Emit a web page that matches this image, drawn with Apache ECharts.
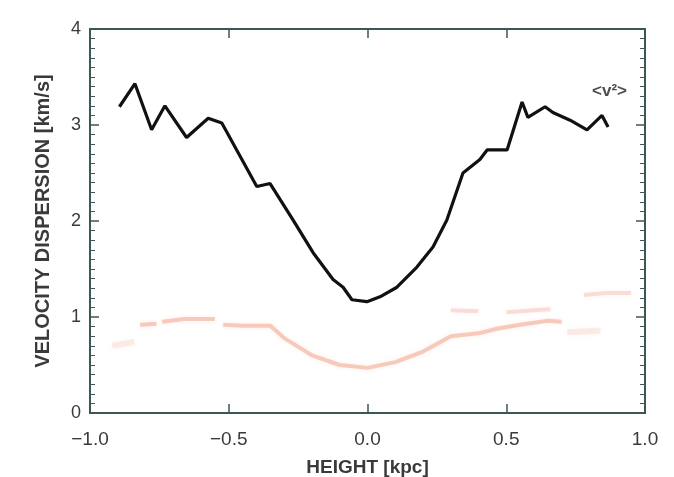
<!DOCTYPE html>
<html>
<head>
<meta charset="utf-8">
<script src="https://cdn.jsdelivr.net/npm/echarts@6/dist/echarts.min.js"></script>
<style>
  html, body { margin: 0; padding: 0; background: #ffffff; }
  #chart { width: 674px; height: 477px; }
</style>
</head>
<body>
<div id="chart"></div>
<script>
// Vertical velocity dispersion profile versus height above the plane
const heightV2 = [-0.894, -0.838, -0.778, -0.730, -0.652, -0.574, -0.525, -0.399, -0.351, -0.268,
                  -0.196, -0.124, -0.088, -0.056, -0.002, 0.045, 0.106, 0.178, 0.236, 0.286,
                  0.344, 0.405, 0.431, 0.503, 0.557, 0.578, 0.640, 0.668, 0.730, 0.791, 0.845, 0.867];
const dispV2 = [3.19, 3.43, 2.95, 3.20, 2.87, 3.07, 3.02, 2.36, 2.39, 2.01,
                1.67, 1.39, 1.31, 1.18, 1.16, 1.21, 1.31, 1.52, 1.73, 2.01,
                2.50, 2.64, 2.74, 2.74, 3.24, 3.08, 3.19, 3.13, 3.05, 2.95, 3.10, 2.98];

// Faint companion profiles
const heightA = [-0.82, -0.76, -0.74, -0.66, -0.55, -0.52, -0.45, -0.35, -0.30, -0.20, -0.10, 0.00,
                 0.10, 0.20, 0.25, 0.30, 0.40, 0.47, 0.55, 0.65, 0.70];
const dispA = [0.92, 0.93, 0.95, 0.98, 0.98, 0.92, 0.91, 0.91, 0.78, 0.60, 0.50, 0.47,
               0.53, 0.64, 0.72, 0.80, 0.83, 0.88, 0.92, 0.96, 0.95];
const heightB = [0.30, 0.40, 0.50, 0.60, 0.66, 0.78, 0.86, 0.95];
const dispB = [1.07, 1.06, 1.05, 1.07, 1.08, 1.23, 1.25, 1.25];
const heightC = [-0.92, -0.88, -0.84, 0.72, 0.78, 0.84];
const dispC = [0.70, 0.72, 0.74, 0.84, 0.85, 0.86];

const xTicks = [-1.0, -0.5, 0.0, 0.5, 1.0];
const yTicks = [0, 1, 2, 3, 4];
const curveLabel = '<v²>';
const labelPos = [0.872, 3.35];

const pairs = (xs, ys) => xs.map((x, i) => [x, ys[i]]);
const gapped = (xs, ys, breaks) => {
  const out = [];
  xs.forEach((x, i) => { out.push([x, ys[i]]); if (breaks.includes(i)) out.push([null, null]); });
  return out;
};

const frame = '#3d5656';
const txt = '#3a3a3a';
const font = '"Liberation Sans Narrow", "Liberation Sans", Arial, sans-serif';

const chart = echarts.init(document.getElementById('chart'));
const axisCommon = {
  axisLine: { show: true, onZero: false, lineStyle: { color: frame, width: 2 } },
  axisTick: { show: true, inside: true, length: 9, lineStyle: { color: frame, width: 1.5 } },
  splitLine: { show: false }
};
chart.setOption({
  backgroundColor: '#ffffff',
  animation: false,
  grid: { left: 90, right: 29, top: 29, bottom: 64, outerBoundsMode: 'none' },
  xAxis: [
    Object.assign({}, axisCommon, {
      type: 'value', position: 'bottom', min: xTicks[0], max: xTicks[xTicks.length - 1], interval: 0.5,
      name: 'HEIGHT [kpc]', nameLocation: 'middle', nameGap: 45,
      nameTextStyle: { color: txt, fontSize: 19, fontFamily: font, fontWeight: 'bold' },
      axisLabel: { color: txt, fontSize: 19, fontFamily: font, margin: 17,
                   formatter: v => (v < 0 ? '\u2212' : '') + Math.abs(v).toFixed(1) }
    }),
    Object.assign({}, axisCommon, {
      type: 'value', position: 'top', min: xTicks[0], max: xTicks[xTicks.length - 1], interval: 0.5,
      axisLabel: { show: false }
    })
  ],
  yAxis: [
    Object.assign({}, axisCommon, {
      type: 'value', position: 'left', min: yTicks[0], max: yTicks[yTicks.length - 1], interval: 1,
      name: 'VELOCITY DISPERSION [km/s]', nameLocation: 'middle', nameGap: 37, nameRotate: 90,
      nameTextStyle: { color: txt, fontSize: 20, fontFamily: font, fontWeight: 'bold' },
      minorTick: { show: true, splitNumber: 10, length: 5, lineStyle: { color: frame, width: 1 } },
      axisLabel: { color: txt, fontSize: 18, fontFamily: font, margin: 9 }
    }),
    Object.assign({}, axisCommon, {
      type: 'value', position: 'right', min: yTicks[0], max: yTicks[yTicks.length - 1], interval: 1,
      minorTick: { show: true, splitNumber: 10, length: 5, lineStyle: { color: frame, width: 1 } },
      axisLabel: { show: false }
    })
  ],
  series: [
    {
      type: 'line', data: gapped(heightA, dispA, [1, 4]), showSymbol: false, connectNulls: false,
      lineStyle: { color: '#ee8a6a', width: 4, opacity: 0.4, shadowBlur: 4, shadowColor: 'rgba(240,140,110,0.4)' },
      z: 1
    },
    {
      type: 'line', data: gapped(heightB, dispB, [1, 4]), showSymbol: false, connectNulls: false,
      lineStyle: { color: '#f0a090', width: 4, opacity: 0.3, shadowBlur: 4, shadowColor: 'rgba(240,150,130,0.4)' },
      z: 1
    },
    {
      type: 'line', data: gapped(heightC, dispC, [2]), showSymbol: false, connectNulls: false,
      lineStyle: { color: '#f5b8a8', width: 6, opacity: 0.25, shadowBlur: 6, shadowColor: 'rgba(245,180,160,0.4)' },
      z: 1
    },
    {
      type: 'line', data: pairs(heightV2, dispV2), showSymbol: false,
      lineStyle: { color: '#111111', width: 3.2 }, z: 3
    },
    {
      type: 'scatter', data: [labelPos], symbolSize: 0, silent: true, z: 4,
      label: { show: true, position: 'inside', formatter: curveLabel,
               color: '#222', fontSize: 17, fontFamily: font, fontWeight: 'bold' }
    }
  ]
});
</script>
</body>
</html>
